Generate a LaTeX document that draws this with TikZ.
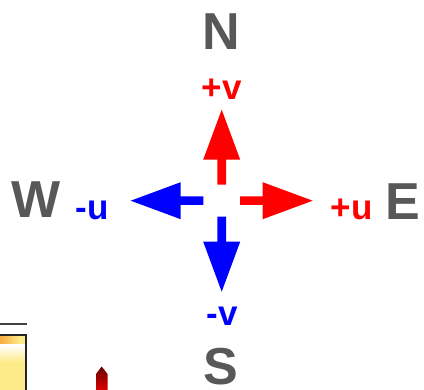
\documentclass[tikz,border=0pt]{standalone}
\usepackage{fontspec}
\setmainfont{Liberation Sans}
\begin{document}
\begin{tikzpicture}[x=1pt,y=-1pt,
  compass/.style={font=\fontsize{52}{52}\selectfont\bfseries, text=compassgray, inner sep=0pt, anchor=base},
  comp/.style={font=\fontsize{35}{35}\selectfont\bfseries, inner sep=0pt, anchor=base},
  posdir/.style={text=red},
  negdir/.style={text=blue},
  pics/fatarrow/.style n args={2}{code={
    \fill[#1] (#2,-4.3) -- (41,-4.3) -- (41,-18.5) -- (91,0) -- (41,18.5) -- (41,4.3) -- (#2,4.3) -- cycle;
  }}]
\definecolor{compassgray}{HTML}{585858}
\definecolor{panelwarm}{HTML}{F6A534}
\definecolor{panelpale}{HTML}{FDEB8A}
\useasboundingbox (0,0) rectangle (424,390);

% corner of a neighbouring colour panel
\begin{scope}
  \clip (0,0) rectangle (424,390);
  \draw[line width=1.5pt, black!75] (-2,324) -- (27,324);
  \fill[panelpale] (-2,335) rectangle (26,392);
  \shade[left color=panelwarm, right color=panelpale] (-2,335) rectangle (20,352);
  \shade[top color=panelpale!0, bottom color=panelpale] (-2,345) rectangle (26,362);
  \draw[line width=1.5pt, black!85] (-2,335) -- (26,335) -- (26,392);
  \shade[top color=red!40!black, bottom color=red!90!black] (96,392) -- (96,374) -- (101.7,366.5) -- (107.5,374) -- (107.5,392) -- cycle;
\end{scope}

% wind component arrows around the origin
\coordinate (o) at (221.7,200.7);
\path (o) pic[rotate=90] {fatarrow={red}{16}};
\path (o) pic[rotate=-90] {fatarrow={blue}{16}};
\path (o) pic {fatarrow={red}{18.3}};
\path (o) pic[rotate=180] {fatarrow={blue}{18.3}};

% compass points
\node[compass] (n) at (221,50) {N};
\node[compass] (s) at (221,385) {S};
\node[compass] (w) at (36,218) {W};
\node[compass] (e) at (403,220) {E};

% component labels
\node[comp, posdir] (pv) at (221.7,100) {+v};
\node[comp, negdir] (nv) at (222,326) {-v};
\node[comp, negdir] (nu) at (92.5,220) {-u};
\node[comp, posdir] (pu) at (351.7,220) {+u};
\end{tikzpicture}
\end{document}
